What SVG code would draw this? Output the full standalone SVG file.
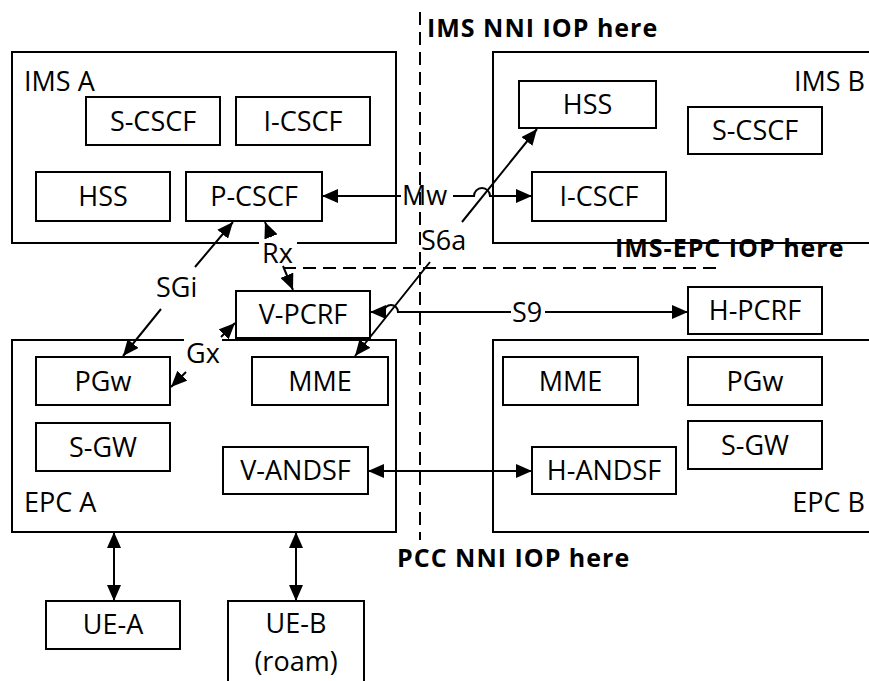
<svg xmlns="http://www.w3.org/2000/svg" width="869" height="681" viewBox="0 0 869 681">
<style>
  .box{fill:#fff;stroke:#000;stroke-width:2}
  .region{fill:none;stroke:#000;stroke-width:2}
  .t{font-family:"Open Sans","Noto Sans","DejaVu Sans",sans-serif;font-size:27px;fill:#000}
  .c{text-anchor:middle}
  .e{text-anchor:end}
  .b{font-family:"Open Sans","Noto Sans","DejaVu Sans",sans-serif;font-size:25px;font-weight:bold;letter-spacing:1px;fill:#000}
  .ln{fill:none;stroke:#000;stroke-width:2}
  .dash{fill:none;stroke:#000;stroke-width:2;stroke-dasharray:13 7}
</style>
<defs>
  <marker id="ah" viewBox="0 0 16 14" refX="16" refY="7" markerWidth="16" markerHeight="14" markerUnits="userSpaceOnUse" orient="auto-start-reverse">
    <path d="M0,0 L16,7 L0,14 z" fill="#000"/>
  </marker>
</defs>
<rect width="869" height="681" fill="#fff"/>

<g id="ims-a"><rect class="region" x="12" y="52" width="384" height="191"/><text class="t" x="24" y="91">IMS A</text></g>
<g id="ims-b"><rect class="region" x="493" y="52" width="400" height="191"/><text class="t e" x="865" y="91">IMS B</text></g>
<g id="epc-a"><rect class="region" x="12" y="340" width="384" height="192"/><text class="t" x="24" y="512">EPC A</text></g>
<g id="epc-b"><rect class="region" x="493" y="340" width="400" height="192"/><text class="t e" x="865" y="512">EPC B</text></g>

<g id="a-scscf"><rect class="box" x="86" y="97" width="134" height="48"/><text class="t c" x="153" y="130.5">S-CSCF</text></g>
<g id="a-icscf"><rect class="box" x="236" y="97" width="134" height="48"/><text class="t c" x="303" y="130.5">I-CSCF</text></g>
<g id="a-hss"><rect class="box" x="36" y="172" width="134" height="49"/><text class="t c" x="103" y="206">HSS</text></g>
<g id="a-pcscf"><rect class="box" x="186" y="172" width="136" height="49"/><text class="t c" x="254" y="206">P-CSCF</text></g>

<g id="b-hss"><rect class="box" x="519" y="81" width="137" height="47"/><text class="t c" x="587.5" y="114">HSS</text></g>
<g id="b-scscf"><rect class="box" x="688" y="107" width="134" height="47"/><text class="t c" x="755" y="140">S-CSCF</text></g>
<g id="b-icscf"><rect class="box" x="532" y="172" width="134" height="49"/><text class="t c" x="599" y="206">I-CSCF</text></g>

<g id="v-pcrf"><rect class="box" x="236" y="291" width="134" height="47"/><text class="t c" x="303" y="324">V-PCRF</text></g>
<g id="h-pcrf"><rect class="box" x="688" y="287" width="134" height="47"/><text class="t c" x="755" y="320">H-PCRF</text></g>

<g id="a-pgw"><rect class="box" x="36" y="357" width="134" height="48"/><text class="t c" x="103" y="390.5">PGw</text></g>
<g id="a-mme"><rect class="box" x="252" y="357" width="136" height="48"/><text class="t c" x="320" y="390.5">MME</text></g>
<g id="a-sgw"><rect class="box" x="36" y="423" width="134" height="48"/><text class="t c" x="103" y="456.5">S-GW</text></g>
<g id="v-andsf"><rect class="box" x="223" y="447" width="145" height="47"/><text class="t c" x="295.5" y="480">V-ANDSF</text></g>

<g id="b-mme"><rect class="box" x="503" y="357" width="135" height="48"/><text class="t c" x="570.5" y="390.5">MME</text></g>
<g id="b-pgw"><rect class="box" x="688" y="357" width="134" height="48"/><text class="t c" x="755" y="390.5">PGw</text></g>
<g id="b-sgw"><rect class="box" x="688" y="421" width="134" height="48"/><text class="t c" x="755" y="454.5">S-GW</text></g>
<g id="h-andsf"><rect class="box" x="532" y="447" width="144" height="47"/><text class="t c" x="604" y="480">H-ANDSF</text></g>

<g id="ue-a"><rect class="box" x="46" y="601" width="134" height="48"/><text class="t c" x="113" y="634">UE-A</text></g>
<g id="ue-b"><rect class="box" x="228" y="601" width="136" height="95"/><text class="t c" x="296" y="633">UE-B</text><text class="t c" x="296" y="671">(roam)</text></g>

<g id="connectors">
  <rect x="259" y="238" width="38" height="28" fill="#fff"/>
  <rect x="184" y="337" width="38" height="29" fill="#fff"/>
  <path class="ln" d="M322,196 H401 M453,196 H474 A8,8 0 0 1 490,196 H532" marker-start="url(#ah)" marker-end="url(#ah)"/>
  <text class="t" x="402" y="205">Mw</text>
  <path class="ln" d="M355,356 L430,262 M462,222 L537,129" marker-start="url(#ah)" marker-end="url(#ah)"/>
  <text class="t" x="421" y="250">S6a</text>
  <path class="ln" d="M265,222 L271,237 M283,266 L293,290" marker-start="url(#ah)" marker-end="url(#ah)"/>
  <text class="t" x="262" y="263">Rx</text>
  <path class="ln" d="M233,222 L195,267 M161,309 L123,356" marker-start="url(#ah)" marker-end="url(#ah)"/>
  <text class="t" x="156" y="297">SGi</text>
  <path class="ln" d="M235,323 L221,337 M186,372 L171,387" marker-start="url(#ah)" marker-end="url(#ah)"/>
  <text class="t" x="186" y="363">Gx</text>
  <path class="ln" d="M370,312 H384 A7,7 0 0 1 398,312 H511 M545,312 H688" marker-start="url(#ah)" marker-end="url(#ah)"/>
  <text class="t" x="512" y="322">S9</text>
  <path class="ln" d="M368,471 H532" marker-start="url(#ah)" marker-end="url(#ah)"/>
  <path class="ln" d="M114,532 V601" marker-start="url(#ah)" marker-end="url(#ah)"/>
  <path class="ln" d="M296,532 V601" marker-start="url(#ah)" marker-end="url(#ah)"/>
</g>

<g id="boundaries">
  <path class="dash" d="M420,12 V540"/>
  <path class="dash" d="M283,268 H722"/>
  <text class="b" x="427" y="37">IMS NNI IOP here</text>
  <text class="b" x="615" y="257">IMS-EPC IOP here</text>
  <text class="b" x="397" y="567">PCC NNI IOP here</text>
</g>
</svg>
